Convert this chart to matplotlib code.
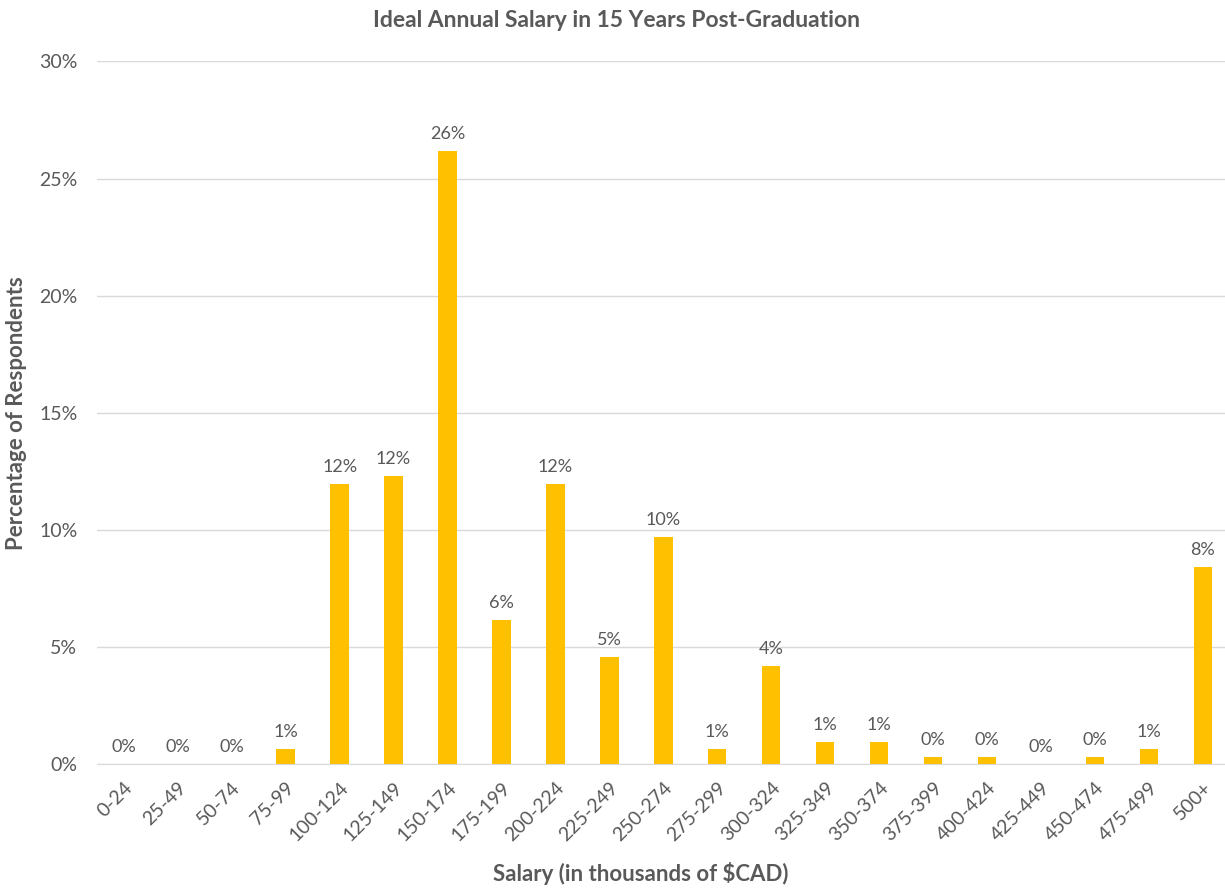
import numpy as np
import matplotlib.pyplot as plt

# salary bins (thousands of $CAD) and share of respondents (%)
bins = ["0-24", "25-49", "50-74", "75-99", "100-124", "125-149", "150-174",
        "175-199", "200-224", "225-249", "250-274", "275-299", "300-324",
        "325-349", "350-374", "375-399", "400-424", "425-449", "450-474",
        "475-499", "500+"]
pct = [0.0, 0.0, 0.0, 0.64, 11.95, 12.29, 26.16,
       6.15, 11.95, 4.57, 9.69, 0.64, 4.18,
       0.94, 0.94, 0.30, 0.30, 0.0, 0.30,
       0.64, 8.40]
yticks = [0, 5, 10, 15, 20, 25, 30]

plt.rcParams['font.family'] = ['Lato', 'DejaVu Sans']
grey = '#595959'

fig = plt.figure(figsize=(12.25, 8.9), dpi=100)
ax = fig.add_axes([0.079, 0.1416, 0.925, 0.7894])

x = np.arange(len(bins))
ax.bar(x, pct, width=0.34, color='#FFC000', zorder=3)

for xi, v in zip(x, pct):
    ax.text(xi, v + 0.4, f"{round(v):.0f}%", ha='center', va='bottom',
            fontsize=13, color=grey)

ax.set_ylim(0, 30)
ax.set_xlim(-0.5, len(bins) - 0.5)
ax.set_yticks(yticks)
ax.set_yticklabels([f"{t}%" for t in yticks], fontsize=14, color=grey)
ax.set_xticks(x)
ax.set_xticklabels(bins, rotation=45, ha='right', rotation_mode='anchor',
                   fontsize=14, color=grey)
ax.tick_params(axis='y', length=0, pad=14)
ax.tick_params(axis='x', length=0, pad=11)

ax.grid(axis='y', color='#D9D9D9', linewidth=1, zorder=0)
for s in ['top', 'right', 'left']:
    ax.spines[s].set_visible(False)
ax.spines['bottom'].set_color('#D9D9D9')
ax.spines['bottom'].set_zorder(4)

ax.set_xlabel("Salary (in thousands of $CAD)", fontsize=16, fontweight='bold',
              color=grey)
ax.xaxis.set_label_coords(0.48, -0.14)
ax.set_ylabel("Percentage of Respondents", fontsize=16, fontweight='bold',
              color=grey)
ax.yaxis.set_label_coords(-0.062, 0.5)
fig.text(0.503, 0.977, "Ideal Annual Salary in 15 Years Post-Graduation",
         ha='center', va='center', fontsize=16.5, fontweight='bold', color=grey)

fig.savefig("out.png", dpi=100)
